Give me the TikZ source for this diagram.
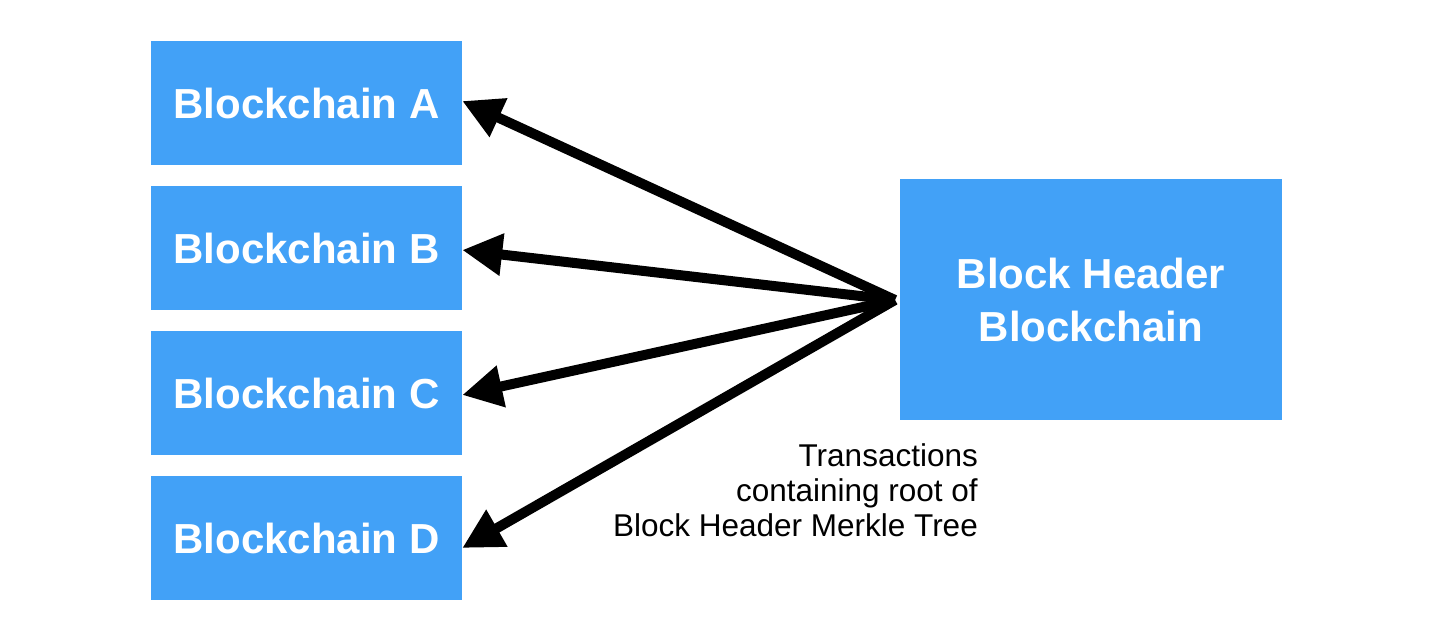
\documentclass[tikz,border=0pt]{standalone}
\usepackage{fontspec}
\setmainfont{Liberation Sans}
\usetikzlibrary{arrows.meta}
\definecolor{chainblue}{RGB}{66,161,247}

\begin{document}
\begin{tikzpicture}[x=1pt,y=-1pt,
  chain/.style={fill=chainblue,text=white,inner sep=0pt,
    minimum width=311pt,minimum height=124pt,
    font=\fontsize{42}{50}\selectfont\bfseries},
  link/.style={line width=10pt,-{Triangle[length=40pt,width=40pt]}}]
  \useasboundingbox (0,0) rectangle (1442,624);
  \node[chain] (chainA) at (306.5,103) {Blockchain A};
  \node[chain] (chainB) at (306.5,248) {Blockchain B};
  \node[chain] (chainC) at (306.5,393) {Blockchain C};
  \node[chain] (chainD) at (306.5,538) {Blockchain D};
  \node[chain,minimum width=382pt,minimum height=241pt,align=center,
    font=\fontsize{42}{53}\selectfont\bfseries] (header) at (1091,299.5)
    {Block Header\\Blockchain};
  \coordinate (hub) at (895,300);
  \draw[link] (hub) -- ([yshift=2pt]chainA.east);
  \draw[link] (hub) -- ([yshift=-2pt]chainB.east);
  \draw[link] (hub) -- ([yshift=-2pt]chainC.east);
  \draw[link] (hub) -- ([yshift=-10pt]chainD.east);
  \node[anchor=base east,align=right,inner sep=0pt,
    font=\fontsize{31.5}{35}\selectfont] (note) at (978,536)
    {Transactions\\containing root of\\Block Header Merkle Tree};
\end{tikzpicture}
\end{document}
